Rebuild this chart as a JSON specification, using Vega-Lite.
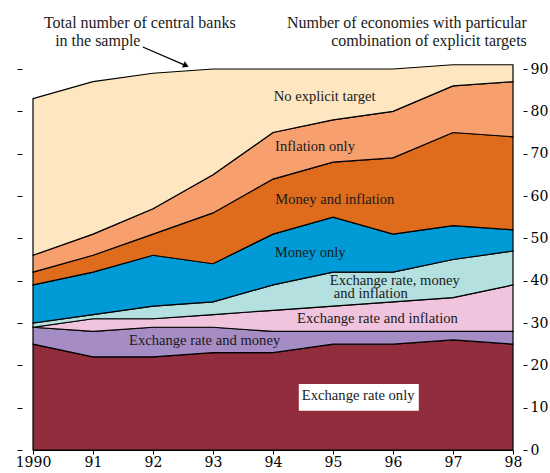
{
  "$schema": "https://vega.github.io/schema/vega-lite/v6.json",
  "autosize": {"type": "none"},
  "width": 480,
  "height": 381,
  "padding": {"left": 33, "top": 69, "right": 37, "bottom": 23},
  "background": "white",
  "view": {"stroke": null},
  "config": {"font": "Liberation Serif"},
  "datasets": {
    "bands": [
      {"year":1990,"cat":"Exchange rate only","k":1,"n":25},
      {"year":1990,"cat":"Exchange rate and money","k":2,"n":4},
      {"year":1990,"cat":"Exchange rate and inflation","k":3,"n":0},
      {"year":1990,"cat":"Exchange rate, money and inflation","k":4,"n":1},
      {"year":1990,"cat":"Money only","k":5,"n":9},
      {"year":1990,"cat":"Money and inflation","k":6,"n":3},
      {"year":1990,"cat":"Inflation only","k":7,"n":4},
      {"year":1990,"cat":"No explicit target","k":8,"n":37},
      {"year":1991,"cat":"Exchange rate only","k":1,"n":22},
      {"year":1991,"cat":"Exchange rate and money","k":2,"n":6},
      {"year":1991,"cat":"Exchange rate and inflation","k":3,"n":3},
      {"year":1991,"cat":"Exchange rate, money and inflation","k":4,"n":1},
      {"year":1991,"cat":"Money only","k":5,"n":10},
      {"year":1991,"cat":"Money and inflation","k":6,"n":4},
      {"year":1991,"cat":"Inflation only","k":7,"n":5},
      {"year":1991,"cat":"No explicit target","k":8,"n":36},
      {"year":1992,"cat":"Exchange rate only","k":1,"n":22},
      {"year":1992,"cat":"Exchange rate and money","k":2,"n":7},
      {"year":1992,"cat":"Exchange rate and inflation","k":3,"n":2},
      {"year":1992,"cat":"Exchange rate, money and inflation","k":4,"n":3},
      {"year":1992,"cat":"Money only","k":5,"n":12},
      {"year":1992,"cat":"Money and inflation","k":6,"n":5},
      {"year":1992,"cat":"Inflation only","k":7,"n":6},
      {"year":1992,"cat":"No explicit target","k":8,"n":32},
      {"year":1993,"cat":"Exchange rate only","k":1,"n":23},
      {"year":1993,"cat":"Exchange rate and money","k":2,"n":6},
      {"year":1993,"cat":"Exchange rate and inflation","k":3,"n":3},
      {"year":1993,"cat":"Exchange rate, money and inflation","k":4,"n":3},
      {"year":1993,"cat":"Money only","k":5,"n":9},
      {"year":1993,"cat":"Money and inflation","k":6,"n":12},
      {"year":1993,"cat":"Inflation only","k":7,"n":9},
      {"year":1993,"cat":"No explicit target","k":8,"n":25},
      {"year":1994,"cat":"Exchange rate only","k":1,"n":23},
      {"year":1994,"cat":"Exchange rate and money","k":2,"n":5},
      {"year":1994,"cat":"Exchange rate and inflation","k":3,"n":5},
      {"year":1994,"cat":"Exchange rate, money and inflation","k":4,"n":6},
      {"year":1994,"cat":"Money only","k":5,"n":12},
      {"year":1994,"cat":"Money and inflation","k":6,"n":13},
      {"year":1994,"cat":"Inflation only","k":7,"n":11},
      {"year":1994,"cat":"No explicit target","k":8,"n":15},
      {"year":1995,"cat":"Exchange rate only","k":1,"n":25},
      {"year":1995,"cat":"Exchange rate and money","k":2,"n":3},
      {"year":1995,"cat":"Exchange rate and inflation","k":3,"n":6},
      {"year":1995,"cat":"Exchange rate, money and inflation","k":4,"n":8},
      {"year":1995,"cat":"Money only","k":5,"n":13},
      {"year":1995,"cat":"Money and inflation","k":6,"n":13},
      {"year":1995,"cat":"Inflation only","k":7,"n":10},
      {"year":1995,"cat":"No explicit target","k":8,"n":12},
      {"year":1996,"cat":"Exchange rate only","k":1,"n":25},
      {"year":1996,"cat":"Exchange rate and money","k":2,"n":3},
      {"year":1996,"cat":"Exchange rate and inflation","k":3,"n":7},
      {"year":1996,"cat":"Exchange rate, money and inflation","k":4,"n":7},
      {"year":1996,"cat":"Money only","k":5,"n":9},
      {"year":1996,"cat":"Money and inflation","k":6,"n":18},
      {"year":1996,"cat":"Inflation only","k":7,"n":11},
      {"year":1996,"cat":"No explicit target","k":8,"n":10},
      {"year":1997,"cat":"Exchange rate only","k":1,"n":26},
      {"year":1997,"cat":"Exchange rate and money","k":2,"n":2},
      {"year":1997,"cat":"Exchange rate and inflation","k":3,"n":8},
      {"year":1997,"cat":"Exchange rate, money and inflation","k":4,"n":9},
      {"year":1997,"cat":"Money only","k":5,"n":8},
      {"year":1997,"cat":"Money and inflation","k":6,"n":22},
      {"year":1997,"cat":"Inflation only","k":7,"n":11},
      {"year":1997,"cat":"No explicit target","k":8,"n":5},
      {"year":1998,"cat":"Exchange rate only","k":1,"n":25},
      {"year":1998,"cat":"Exchange rate and money","k":2,"n":3},
      {"year":1998,"cat":"Exchange rate and inflation","k":3,"n":11},
      {"year":1998,"cat":"Exchange rate, money and inflation","k":4,"n":8},
      {"year":1998,"cat":"Money only","k":5,"n":5},
      {"year":1998,"cat":"Money and inflation","k":6,"n":22},
      {"year":1998,"cat":"Inflation only","k":7,"n":13},
      {"year":1998,"cat":"No explicit target","k":8,"n":4}
    ],
    "labels": [
      {"t":"No explicit target","x":1994.86,"y":83.3},
      {"t":"Inflation only","x":1994.7,"y":71.6},
      {"t":"Money and inflation","x":1995.03,"y":59.1},
      {"t":"Money only","x":1994.62,"y":46.5},
      {"t":"Exchange rate, money","x":1996.03,"y":39.9},
      {"t":"and inflation","x":1995.63,"y":36.9},
      {"t":"Exchange rate and inflation","x":1995.74,"y":30.9},
      {"t":"Exchange rate and money","x":1992.86,"y":25.75},
      {"t":"Exchange rate only","x":1995.42,"y":12.83}
    ],
    "box": [{"x":1994.43,"x2":1996.43,"y":15.59,"y2":9.28}],
    "titlesLeft": [
      {"t":"Total number of central banks","x":1991.78,"y":100.8},
      {"t":"in the sample","x":1991.08,"y":96.5}
    ],
    "titlesRight": [
      {"t":"Number of economies with particular","x":1998.23,"y":100.8},
      {"t":"combination of explicit targets","x":1998.23,"y":96.5}
    ],
    "arrow": [{"x":1991.83,"y":95.2,"x2":1992.55,"y2":90.8}]
  },
  "resolve": {"axis": {"y": "independent"}},
  "layer": [
    {
      "data": {"name": "bands"},
      "mark": {"type": "area", "stroke": "black", "strokeWidth": 1.2, "strokeJoin": "miter", "interpolate": "linear"},
      "encoding": {
        "x": {"field": "year", "type": "quantitative",
              "scale": {"domain": [1990, 1998], "nice": false, "zero": false},
              "axis": {"title": null, "values": [1990,1991,1992,1993,1994,1995,1996,1997,1998],
                       "format": "d", "labelExpr": "datum.value == 1990 ? '1990' : substring(datum.label, 2, 4)",
                       "grid": false, "domainColor": "black", "domainWidth": 1.2, "tickColor": "black", "tickSize": 4,
                       "labelFont": "DejaVu Serif", "labelFontSize": 14, "labelColor": "black", "labelPadding": 1,
                       "labelFlush": false}},
        "y": {"field": "n", "type": "quantitative", "stack": "zero",
              "scale": {"domain": [0, 90], "nice": false},
              "axis": {"orient": "left", "title": null, "values": [0,10,20,30,40,50,60,70,80,90],
                       "labels": false, "domain": false, "grid": false, "offset": 11,
                       "tickColor": "black", "tickSize": 5, "tickWidth": 1}},
        "color": {"field": "cat", "type": "nominal", "legend": null,
                  "scale": {"domain": ["Exchange rate only","Exchange rate and money","Exchange rate and inflation","Exchange rate, money and inflation","Money only","Money and inflation","Inflation only","No explicit target"],
                            "range": ["#912D3D","#A68CC4","#F0C4DE","#B4E0E0","#009BD7","#DE6C1C","#F7A06E","#FDE6C0"]}},
        "order": {"field": "k", "type": "quantitative"}
      }
    },
    {
      "data": {"name": "box"},
      "mark": {"type": "rect", "color": "white"},
      "encoding": {
        "x": {"field": "x", "type": "quantitative", "scale": {"domain": [1990, 1998], "nice": false, "zero": false}},
        "x2": {"field": "x2"},
        "y": {"field": "y", "type": "quantitative", "scale": {"domain": [0, 90], "nice": false},
              "axis": {"orient": "right", "title": null, "values": [0,10,20,30,40,50,60,70,80,90],
                       "domain": false, "grid": false, "offset": 10, "tickColor": "black", "tickSize": 4, "tickWidth": 1,
                       "labelFont": "DejaVu Serif", "labelFontSize": 14, "labelColor": "black", "labelPadding": 3}},
        "y2": {"field": "y2"}
      }
    },
    {
      "data": {"name": "labels"},
      "mark": {"type": "text", "font": "Liberation Serif", "fontSize": 14.6, "color": "#1a1a1a", "baseline": "middle", "align": "center"},
      "encoding": {
        "x": {"field": "x", "type": "quantitative", "scale": {"domain": [1990, 1998], "nice": false, "zero": false}},
        "y": {"field": "y", "type": "quantitative", "scale": {"domain": [0, 90], "nice": false}, "axis": null},
        "text": {"field": "t"}
      }
    },
    {
      "data": {"name": "titlesLeft"},
      "mark": {"type": "text", "font": "Times New Roman", "fontSize": 16, "color": "#1a1a1a", "baseline": "middle", "align": "center"},
      "encoding": {
        "x": {"field": "x", "type": "quantitative", "scale": {"domain": [1990, 1998], "nice": false, "zero": false}},
        "y": {"field": "y", "type": "quantitative", "scale": {"domain": [0, 90], "nice": false}, "axis": null},
        "text": {"field": "t"}
      }
    },
    {
      "data": {"name": "titlesRight"},
      "mark": {"type": "text", "font": "serif", "fontSize": 16, "color": "#1a1a1a", "baseline": "middle", "align": "right"},
      "encoding": {
        "x": {"field": "x", "type": "quantitative", "scale": {"domain": [1990, 1998], "nice": false, "zero": false}},
        "y": {"field": "y", "type": "quantitative", "scale": {"domain": [0, 90], "nice": false}, "axis": null},
        "text": {"field": "t"}
      }
    },
    {
      "data": {"name": "arrow"},
      "mark": {"type": "rule", "color": "black", "strokeWidth": 1.3},
      "encoding": {
        "x": {"field": "x", "type": "quantitative", "scale": {"domain": [1990, 1998], "nice": false, "zero": false}},
        "y": {"field": "y", "type": "quantitative", "scale": {"domain": [0, 90], "nice": false}, "axis": null},
        "x2": {"field": "x2"},
        "y2": {"field": "y2"}
      }
    },
    {
      "data": {"name": "arrow"},
      "mark": {"type": "point", "shape": "triangle-right", "filled": true, "color": "black", "size": 45, "angle": 24, "opacity": 1},
      "encoding": {
        "x": {"field": "x2", "type": "quantitative", "scale": {"domain": [1990, 1998], "nice": false, "zero": false}},
        "y": {"field": "y2", "type": "quantitative", "scale": {"domain": [0, 90], "nice": false}, "axis": null}
      }
    }
  ]
}
